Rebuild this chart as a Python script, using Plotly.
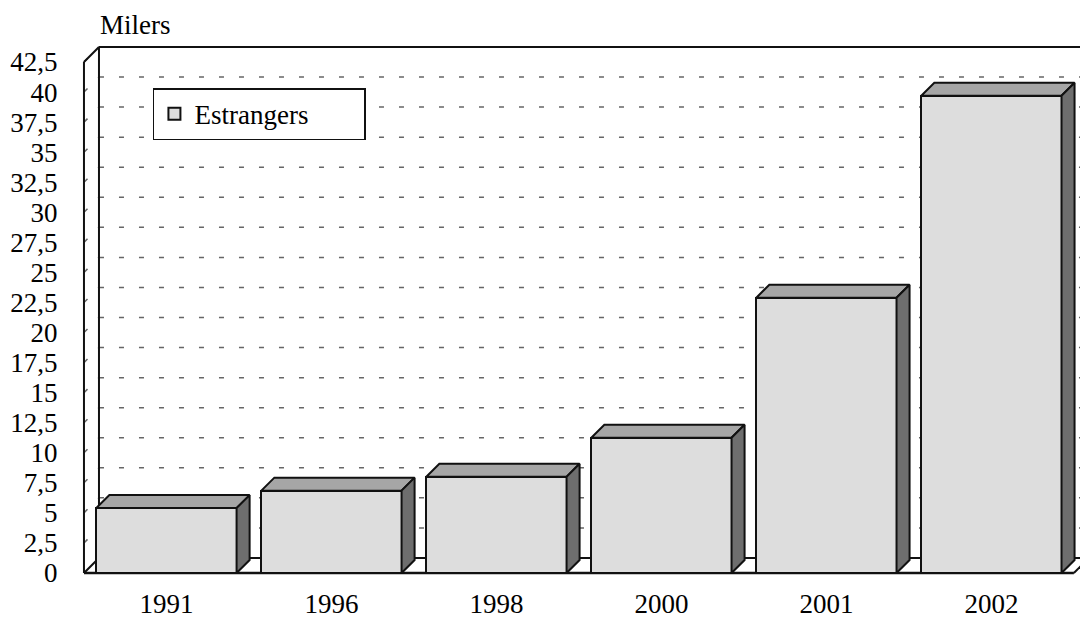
import plotly.graph_objects as go

# ---- data ----
years = ["1991", "1996", "1998", "2000", "2001", "2002"]
values = [5.4, 6.85, 8.0, 11.25, 22.9, 39.7]
series_name = "Estrangers"
y_ticks = [i * 2.5 for i in range(18)]
y_ticktext = [("%g" % v).replace(".", ",") for v in y_ticks]
unit_label = "Milers"

# ---- geometry (data units) ----
BAR_W = 0.85
BAR_DX, BAR_DY = 0.079, 1.08      # bar depth
WALL_DX, WALL_DY = 0.091, 1.25    # wall depth
X0 = -0.5
X_END = 5.5
YMAX = 42.5
FACE = "#DDDDDD"
TOP = "#A6A6A6"
SIDE = "#6E6E6E"
EDGE = "#111111"
FONT = "Liberation Serif"
FS = 27

xs = list(range(len(years)))

fig = go.Figure()

# front faces
fig.add_trace(go.Bar(
    x=xs, y=values, width=BAR_W, name=series_name,
    marker=dict(color=FACE, line=dict(color=EDGE, width=2)),
    showlegend=True, hoverinfo="skip"))

# top & side faces
tx, ty, sx, sy = [], [], [], []
for i, v in zip(xs, values):
    l, r = i - BAR_W / 2, i + BAR_W / 2
    tx += [l, r, r + BAR_DX, l + BAR_DX, l, None]
    ty += [v, v, v + BAR_DY, v + BAR_DY, v, None]
    sx += [r, r, r + BAR_DX, r + BAR_DX, r, None]
    sy += [0, v, v + BAR_DY, BAR_DY, 0, None]
fig.add_trace(go.Scatter(x=tx, y=ty, fill="toself", fillcolor=TOP, mode="lines",
                         line=dict(color=EDGE, width=2), showlegend=False, hoverinfo="skip"))
fig.add_trace(go.Scatter(x=sx, y=sy, fill="toself", fillcolor=SIDE, mode="lines",
                         line=dict(color=EDGE, width=2), showlegend=False, hoverinfo="skip"))

shapes = []
XR = 5.7
GRID = dict(color="#666666", width=1.5, dash="5px,15px")
# back wall gridlines and side wall gridlines
for v in y_ticks[1:]:
    shapes.append(dict(type="line", xref="x", yref="y", layer="below",
                       x0=X0 + WALL_DX, x1=XR, y0=v + WALL_DY, y1=v + WALL_DY, line=GRID))
    shapes.append(dict(type="line", xref="x", yref="y", layer="below",
                       x0=X0, x1=X0 + WALL_DX, y0=v, y1=v + WALL_DY, line=GRID))
solid = dict(color=EDGE, width=2)
# back wall top, left, floor back
shapes.append(dict(type="line", xref="x", yref="y", layer="below",
                   x0=X0 + WALL_DX, x1=XR, y0=YMAX + WALL_DY, y1=YMAX + WALL_DY, line=solid))
shapes.append(dict(type="line", xref="x", yref="y", layer="below",
                   x0=X0 + WALL_DX, x1=X0 + WALL_DX, y0=WALL_DY, y1=YMAX + WALL_DY, line=solid))
shapes.append(dict(type="line", xref="x", yref="y", layer="below",
                   x0=X0 + WALL_DX, x1=XR, y0=WALL_DY, y1=WALL_DY, line=solid))
# side wall front edge (axis), diagonals
shapes.append(dict(type="line", xref="x", yref="y", layer="below",
                   x0=X0, x1=X0, y0=0, y1=YMAX, line=solid))
shapes.append(dict(type="line", xref="x", yref="y", layer="below",
                   x0=X0, x1=X0 + WALL_DX, y0=YMAX, y1=YMAX + WALL_DY, line=solid))
shapes.append(dict(type="line", xref="x", yref="y", layer="below",
                   x0=X0, x1=X0 + WALL_DX, y0=0, y1=WALL_DY, line=solid))
# floor front edge and right diagonal
shapes.append(dict(type="line", xref="x", yref="y", layer="below",
                   x0=X0, x1=X_END, y0=0, y1=0, line=dict(color=EDGE, width=2.5)))
shapes.append(dict(type="line", xref="x", yref="y", layer="below",
                   x0=X_END, x1=X_END + WALL_DX, y0=0, y1=WALL_DY, line=solid))

fig.update_layout(
    width=1080, height=618,
    margin=dict(l=81, r=0, t=44, b=42, autoexpand=False),
    plot_bgcolor="white", paper_bgcolor="white",
    font=dict(family=FONT, size=FS, color="black"),
    shapes=shapes,
    showlegend=True,
    legend=dict(x=0.072, y=0.917, xanchor="left", yanchor="top",
                bgcolor="white", bordercolor=EDGE, borderwidth=1.5,
                font=dict(family=FONT, size=FS, color="black"),
                orientation="h", entrywidth=165, entrywidthmode="pixels",
                itemwidth=30, tracegroupgap=0),
    annotations=[dict(text=unit_label, xref="paper", yref="paper",
                      x=(98 - 81) / 999, y=(576 - 25) / 532,
                      xanchor="left", yanchor="middle", showarrow=False,
                      font=dict(family=FONT, size=FS, color="black"))],
    bargap=0,
)
fig.update_xaxes(range=[-0.518, 5.537], tickvals=xs, ticktext=years,
                 showgrid=False, zeroline=False, showline=False,
                 ticks="outside", ticklen=4, tickcolor="rgba(0,0,0,0)",
                 tickfont=dict(family=FONT, size=FS), fixedrange=True)
fig.update_yaxes(range=[-0.25, 44.0], tickvals=y_ticks, ticktext=y_ticktext,
                 showgrid=False, zeroline=False, showline=False,
                 ticks="outside", ticklen=17, tickcolor="rgba(0,0,0,0)",
                 tickfont=dict(family=FONT, size=FS), fixedrange=True)

fig.write_html("out.html", config={"displayModeBar": False},
               post_script="document.body.style.margin='0px';document.body.style.overflow='hidden';")
